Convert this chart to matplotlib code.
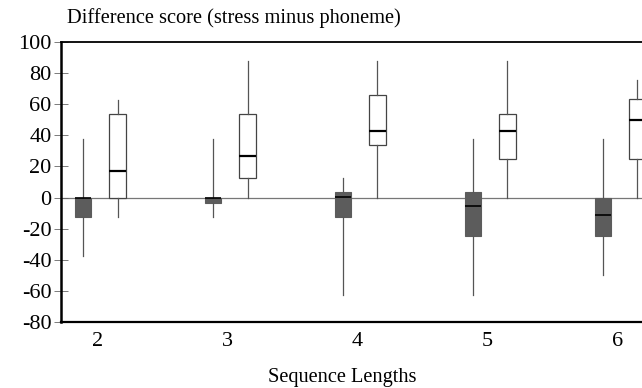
import matplotlib
matplotlib.use("Agg")
import matplotlib.pyplot as plt

# sequence lengths and box statistics
longitudes = [2, 3, 4, 5, 6]

# grey boxes
gris_bajo = [-37.5, -12.5, -62.5, -62.5, -50]
gris_q1 = [-12.5, -3.5, -12.5, -25, -25]
gris_med = [0, 0, 0.5, -5.5, -11]
gris_q3 = [0, 0, 3.5, 3.5, 0]
gris_alto = [37.5, 37.5, 12.5, 37.5, 37.5]

# white boxes
blanco_bajo = [-12.5, 0, 0, 0, 0]
blanco_q1 = [0, 12.5, 34, 25, 25]
blanco_med = [17, 27, 42.5, 42.5, 50]
blanco_q3 = [53.5, 53.5, 66, 53.5, 63]
blanco_alto = [62.5, 87.5, 87.5, 87.5, 75.5]

plt.rcParams["font.family"] = ["Liberation Serif", "DejaVu Serif"]
plt.rcParams["axes.unicode_minus"] = False

fig = plt.figure(figsize=(6.42, 3.88), dpi=100)
ax = fig.add_axes([0.095, 0.170, 0.905, 0.722])

def stats(bajo, q1, med, q3, alto):
    return [{"whislo": bajo[i], "q1": q1[i], "med": med[i], "q3": q3[i],
             "whishi": alto[i], "fliers": []} for i in range(len(bajo))]

pos_gris = [x - 0.11 for x in longitudes]
pos_blanco = [x + 0.155 for x in longitudes]

ax.axhline(0, color="#777777", lw=0.9, zorder=0)

ax.bxp(stats(gris_bajo, gris_q1, gris_med, gris_q3, gris_alto),
       positions=pos_gris, widths=0.125, patch_artist=True, showcaps=False,
       boxprops=dict(facecolor="#5c5c5c", edgecolor="#5c5c5c", lw=0.8),
       medianprops=dict(color="black", lw=1.2),
       whiskerprops=dict(color="#555555", lw=0.9), manage_ticks=False)

ax.bxp(stats(blanco_bajo, blanco_q1, blanco_med, blanco_q3, blanco_alto),
       positions=pos_blanco, widths=0.125, patch_artist=True, showcaps=False,
       boxprops=dict(facecolor="white", edgecolor="#444444", lw=0.9),
       medianprops=dict(color="black", lw=1.6),
       whiskerprops=dict(color="#555555", lw=0.9), manage_ticks=False)

ax.set_xlim(1.72, 6.19)
ax.set_ylim(-80, 100)
ax.set_yticks(range(-80, 101, 20))
ax.set_xticks(longitudes)
ax.tick_params(axis="y", direction="inout", length=9.5, width=0.6,
               color="#666666", labelsize=16, pad=2)
ax.tick_params(axis="x", length=0, labelsize=16, pad=7)

ax.spines["right"].set_visible(False)
ax.spines["left"].set_linewidth(1.8)
ax.spines["bottom"].set_linewidth(1.6)
ax.spines["top"].set_linewidth(1.3)

fig.text(0.104, 0.953, "Difference score (stress minus phoneme)",
         fontsize=14.7, va="center", ha="left")
fig.text(0.533, 0.026, "Sequence Lengths", fontsize=14.7,
         va="center", ha="center")

fig.savefig("out.png", dpi=100)
